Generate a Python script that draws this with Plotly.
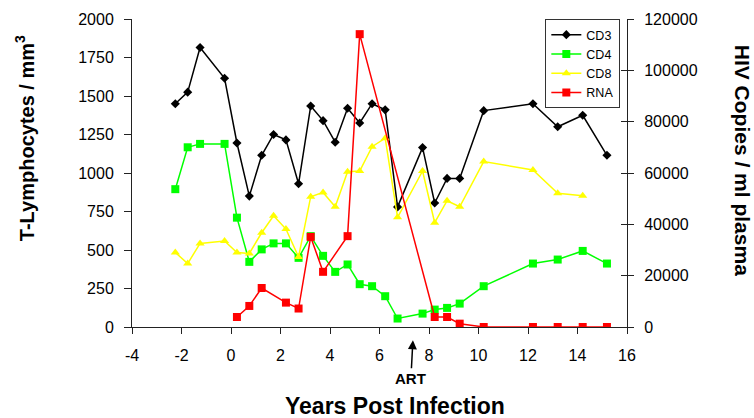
import plotly.graph_objects as go

# Sampling times (years post infection)
years = [-2.25, -1.75, -1.25, -0.26, 0.24, 0.74, 1.24, 1.72, 2.22, 2.73,
         3.22, 3.72, 4.21, 4.71, 5.20, 5.70, 6.23, 6.73, 7.74, 8.23,
         8.73, 9.24, 10.21, 12.2, 13.2, 14.21, 15.19]

# T-lymphocyte counts (cells / mm3)
cd3 = [1450, 1525, 1815, 1615, 1195, 850, 1115, 1250, 1215, 930,
       1435, 1340, 1200, 1420, 1325, 1450, 1410, 780, 1165, 805,
       965, 965, 1405, 1450, 1300, 1375, 1115]
cd4 = [895, 1167, 1189, 1189, 710, 423, 504, 543, 543, 449,
       590, 462, 358, 406, 278, 265, 200, 55, 87, 113,
       124, 152, 265, 412, 438, 494, 412]
cd8 = [484, 412, 543, 558, 484, 478, 612, 722, 636, 455,
       846, 874, 781, 1008, 1013, 1171, 1226, 712, 1013, 677,
       820, 781, 1074, 1020, 868, 852, None]

# Plasma HIV RNA (copies / ml)
rna = [None, None, None, None, 3900, 8200, 15200, None, 9500, 7200,
       35100, 21500, None, 35400, 114100, None, None, None, None, 3900,
       3900, 1300, 0, 0, 0, 0, 0]

# Axis tick values and labels
x_ticks = [-4, -2, 0, 2, 4, 6, 8, 10, 12, 14, 16]
x_tick_labels = ["-4", "-2", "0", "2", "4", "6", "8", "10", "12", "14", "16"]
left_ticks = [0, 250, 500, 750, 1000, 1250, 1500, 1750, 2000]
right_ticks = [0, 20000, 40000, 60000, 80000, 100000, 120000]

art_year = 7.35

FONT = "Liberation Sans, Arial, sans-serif"
AXIS_COLOR = "#222222"

fig = go.Figure()

fig.add_trace(go.Scatter(
    x=years, y=cd3, name="CD3", mode="lines+markers",
    line=dict(color="black", width=1.5),
    marker=dict(symbol="diamond", size=7, color="black"),
    connectgaps=True,
))
fig.add_trace(go.Scatter(
    x=years, y=cd4, name="CD4", mode="lines+markers",
    line=dict(color="#00ff00", width=1.5),
    marker=dict(symbol="square", size=8, color="#00ff00"),
    connectgaps=True,
))
fig.add_trace(go.Scatter(
    x=years, y=cd8, name="CD8", mode="lines+markers",
    line=dict(color="#ffff00", width=1.5),
    marker=dict(symbol="triangle-up", size=8, color="#ffff00"),
    connectgaps=True,
))
fig.add_trace(go.Scatter(
    x=years, y=rna, name="RNA", mode="lines+markers", yaxis="y2",
    line=dict(color="#ff0000", width=1.5),
    marker=dict(symbol="square", size=8, color="#ff0000"),
    connectgaps=True,
))
# empty trace so the third (tick-only) axis gets drawn
fig.add_trace(go.Scatter(x=[None], y=[None], yaxis="y3", showlegend=False,
                         hoverinfo="skip"))

fig.update_layout(
    width=754, height=418,
    margin=dict(l=132, r=127, t=19, b=91),
    paper_bgcolor="white", plot_bgcolor="white",
    font=dict(family=FONT, color="black", size=16),
    showlegend=True,
    legend=dict(
        x=0.835, y=1.0, xanchor="left", yanchor="top",
        bordercolor="#333333", borderwidth=1, bgcolor="white",
        font=dict(family=FONT, size=12.5, color="black"),
        itemwidth=30, tracegroupgap=0,
    ),
    xaxis=dict(
        range=[-4, 16], tickvals=x_ticks, ticktext=x_tick_labels,
        showgrid=False, zeroline=False,
        showline=True, linecolor=AXIS_COLOR, linewidth=1,
        ticks="outside", ticklen=6, tickcolor=AXIS_COLOR,
        ticklabelstandoff=8,
        tickfont=dict(family=FONT, size=16),
    ),
    yaxis=dict(
        range=[0, 2000], tickvals=left_ticks,
        showgrid=False, zeroline=False,
        showline=True, linecolor=AXIS_COLOR, linewidth=1,
        ticks="outside", ticklen=7, tickcolor=AXIS_COLOR,
        ticklabelstandoff=7,
        tickfont=dict(family=FONT, size=16),
    ),
    yaxis2=dict(
        range=[0, 120000], tickvals=right_ticks,
        ticktext=[str(v) for v in right_ticks],
        overlaying="y", side="right",
        showgrid=False, zeroline=False,
        showline=True, linecolor=AXIS_COLOR, linewidth=1,
        ticks="outside", ticklen=6, tickcolor=AXIS_COLOR,
        ticklabelstandoff=7,
        tickfont=dict(family=FONT, size=16),
    ),
    # inward half of the crossing ticks on the right axis
    yaxis3=dict(
        range=[0, 120000], tickvals=right_ticks, overlaying="y", side="right",
        anchor="x", showgrid=False, zeroline=False, showline=False,
        ticks="inside", ticklen=6, tickcolor=AXIS_COLOR,
        showticklabels=False,
    ),
)

title_font = dict(family=FONT, size=20, color="black", weight="bold")

fig.add_annotation(
    text="T-Lymphocytes / mm<sup>3</sup>", textangle=-90,
    xref="paper", yref="paper", x=-0.2156, y=0.614,
    xanchor="center", yanchor="middle", showarrow=False, font=title_font,
)
fig.add_annotation(
    text="HIV Copies / ml plasma", textangle=90,
    xref="paper", yref="paper", x=1.235, y=0.542,
    xanchor="center", yanchor="middle", showarrow=False,
    font=dict(family=FONT, size=21, color="black", weight="bold"),
)
fig.add_annotation(
    text="Years Post Infection",
    xref="paper", yref="paper", x=0.532, y=-0.255,
    xanchor="center", yanchor="middle", showarrow=False,
    font=dict(family=FONT, size=23, color="black", weight="bold"),
)
# ART start: label below the axis with an arrow pointing up at the start time
fig.add_annotation(
    text="ART", xref="x", yref="paper", x=art_year, y=-0.043,
    showarrow=True, ax=-2, ay=38, arrowhead=2, arrowsize=1.2,
    arrowwidth=1.5, arrowcolor="black", standoff=0,
    font=dict(family=FONT, size=15, color="black", weight="bold"),
)

fig.write_html("out.html")
